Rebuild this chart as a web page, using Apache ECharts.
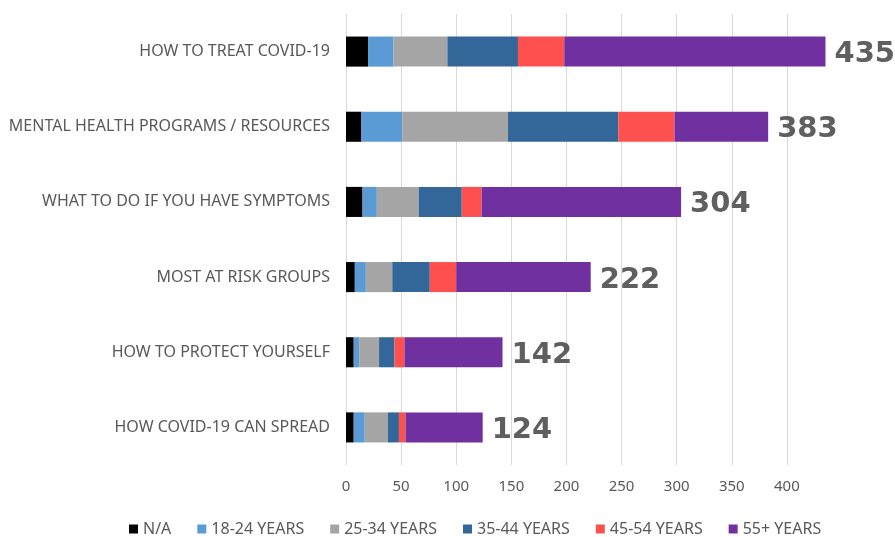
<!DOCTYPE html>
<html>
<head>
<meta charset="utf-8">
<script src="https://cdn.jsdelivr.net/npm/echarts@6/dist/echarts.min.js"></script>
<style>
  html, body { margin: 0; padding: 0; background: #fff; }
  #chart { width: 895px; height: 537px; }
</style>
</head>
<body>
<div id="chart"></div>
<script>
// ==================== data ====================

const categories = [
  'HOW TO TREAT COVID-19',
  'MENTAL HEALTH PROGRAMS / RESOURCES',
  'WHAT TO DO IF YOU HAVE SYMPTOMS',
  'MOST AT RISK GROUPS',
  'HOW TO PROTECT YOURSELF',
  'HOW COVID-19 CAN SPREAD'
];

const seriesNames = ['N/A', '18-24 YEARS', '25-34 YEARS', '35-44 YEARS', '45-54 YEARS', '55+ YEARS'];

const naValues     = [20, 14, 15, 8, 7, 7];
const age18to24    = [23, 37, 13, 10, 5, 10];
const age25to34    = [49, 96, 38, 24, 18, 21];
const age35to44    = [64, 100, 39, 34, 14, 10];
const age45to54    = [42, 51, 18, 24, 9, 6];
const age55plus    = [237, 85, 181, 122, 89, 70];

const xTicks = [0, 50, 100, 150, 200, 250, 300, 350, 400];

const colors = ['#000000', '#5b9bd5', '#a5a5a5', '#336699', '#ff5050', '#7030a0'];

// ==================== build ====================

const allValues = [naValues, age18to24, age25to34, age35to44, age45to54, age55plus];

// totals shown at the end of each bar
const totals = categories.map((_, i) => allValues.reduce((s, arr) => s + arr[i], 0));

// grid lines: one per tick, the cut-off end of the axis gets none
const gridColors = xTicks.map(() => '#d9d9d9').concat(['rgba(0,0,0,0)']);

const series = seriesNames.map((name, k) => {
  const s = {
    name: name,
    type: 'bar',
    stack: 'total',
    data: allValues[k],
    barCategoryGap: '60%',
    itemStyle: { color: colors[k] },
    emphasis: { disabled: true }
  };
  if (k === seriesNames.length - 1) {
    s.label = {
      show: true,
      position: 'right',
      distance: 9,
      offset: [0, 3],
      formatter: p => String(totals[p.dataIndex]),
      fontFamily: 'DejaVu Sans',
      fontWeight: 'bold',
      fontSize: 29,
      color: '#5f5f5f'
    };
  }
  return s;
});

const option = {
  animation: false,
  backgroundColor: '#ffffff',
  grid: { left: 346, right: 64, top: 14, bottom: 72 },
  legend: {
    data: seriesNames,
    left: 124,
    top: 516,
    icon: 'rect',
    itemWidth: 9,
    itemHeight: 9,
    itemGap: 26,
    itemTextGap: 4,
    textStyle: { fontFamily: 'Noto Sans', fontSize: 16, color: '#595959' }
  },
  xAxis: {
    type: 'value',
    min: 0,
    max: 440,
    interval: 50,
    axisLine: { show: false },
    axisTick: { show: false },
    splitLine: { show: true, lineStyle: { color: gridColors, width: 1 } },
    axisLabel: {
      margin: 14,
      fontFamily: 'Noto Sans',
      fontSize: 15,
      color: '#595959',
      formatter: v => (xTicks.indexOf(v) >= 0 ? String(v) : '')
    }
  },
  yAxis: {
    type: 'category',
    data: categories,
    inverse: true,
    axisLine: { show: false },
    axisTick: { show: false },
    axisLabel: {
      margin: 16,
      fontFamily: 'Noto Sans',
      fontSize: 16,
      color: '#595959'
    }
  },
  series: series
};

const chart = echarts.init(document.getElementById('chart'));
chart.setOption(option);
</script>
</body>
</html>
